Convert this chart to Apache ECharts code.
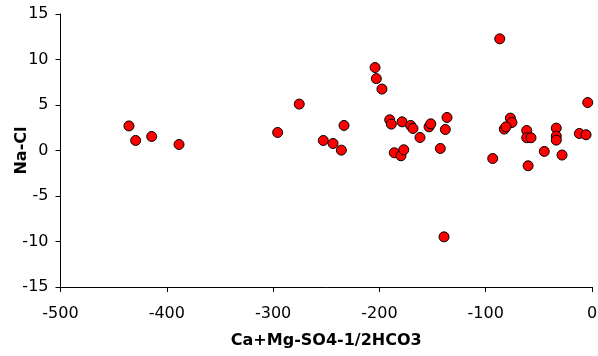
<!DOCTYPE html>
<html><head><meta charset="utf-8">
<script src="https://cdn.jsdelivr.net/npm/echarts@6/dist/echarts.min.js"></script>
<style>html,body{margin:0;padding:0;background:#fff}#c{width:598px;height:356px}</style>
</head><body><div id="c"></div>
<script>
var xValues = [-435.6,-429.3,-414.2,-388.5,-295.7,-275.4,-204.1,-202.9,-197.6,-233.3,-252.8,-243.6,-235.8,-190.3,-188.8,-186,-178.7,-179.7,-177.1,-170.6,-168.4,-161.8,-153.3,-151.7,-136.4,-138,-142.7,-86.8,-93.4,-76.8,-75.3,-82.5,-80.9,-61.4,-61.4,-57.4,-44.9,-60.1,-33.6,-33.6,-33.6,-28.2,-11.9,-5.6,-4,-139.2];
var yValues = [2.7,1.1,1.54,0.66,1.98,5.1,9.12,7.9,6.75,2.75,1.1,0.77,0.04,3.37,2.9,-0.25,3.15,-0.58,0.08,2.75,2.42,1.43,2.6,2.93,3.63,2.31,0.22,12.27,-0.88,3.56,3.08,2.35,2.6,2.2,1.4,1.4,-0.1,-1.68,2.46,1.58,1.14,-0.5,1.87,1.73,5.27,-9.49];
var xTitle = 'Ca+Mg-SO4-1/2HCO3';
var yTitle = 'Na-Cl';
var pts = xValues.map(function(x,i){return [x,yValues[i]];});
var chart = echarts.init(document.getElementById('c'));
var FONT = 'DejaVu Sans';
function axisCommon(labelMargin){
  return {
    nameMoveOverlap:false,
    axisLine:{show:true,onZero:false,lineStyle:{color:'#000',width:1}},
    axisTick:{show:true,inside:false,length:5,lineStyle:{color:'#000'}},
    splitLine:{show:false},
    axisLabel:{color:'#000',fontFamily:FONT,fontSize:16,margin:labelMargin},
    nameTextStyle:{color:'#000',fontFamily:FONT,fontSize:16,fontWeight:'bold'}
  };
}
chart.setOption({
  animation:false,
  backgroundColor:'#fff',
  grid:{left:60.5,right:6,top:14,bottom:69,containLabel:false,outerBoundsMode:'none'},
  xAxis:Object.assign({type:'value',min:-500,max:0,interval:100,name:xTitle,nameLocation:'middle',nameGap:46},axisCommon(19)),
  yAxis:Object.assign({type:'value',min:-15,max:15,interval:5,name:yTitle,nameLocation:'middle',nameGap:31},axisCommon(12)),
  series:[{type:'scatter',data:pts,symbol:'circle',symbolSize:10,
    itemStyle:{color:'#ff0000',borderColor:'#000',borderWidth:1,opacity:1}}]
});
</script></body></html>
